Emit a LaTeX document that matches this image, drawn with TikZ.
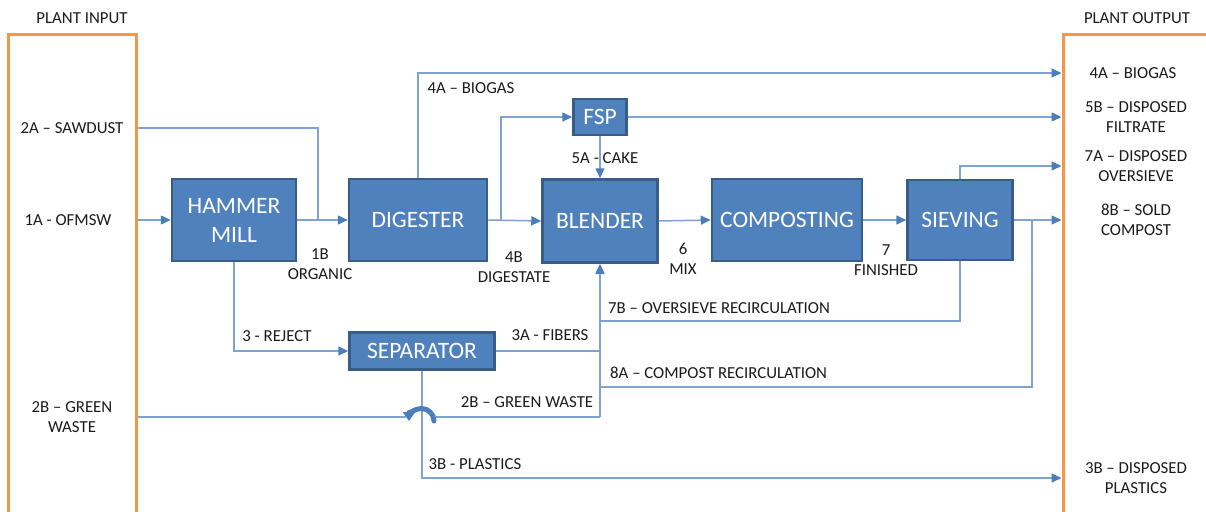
\documentclass[tikz,border=0pt]{standalone}
\usepackage{fontspec}
\setmainfont{Carlito}
\usetikzlibrary{arrows.meta}
\definecolor{boxfill}{HTML}{4F81BD}
\definecolor{boxdraw}{HTML}{385D8A}
\definecolor{linec}{HTML}{7EA3D2}
\definecolor{arrowc}{HTML}{4A7EBB}
\definecolor{orangec}{HTML}{F79646}
\definecolor{textc}{HTML}{1A1A1A}
\begin{document}
\begin{tikzpicture}[x=1pt,y=-1pt,
  proc/.style={draw=boxdraw,fill=boxfill,line width=2.5pt,text=white,font=\fontsize{23.5}{29}\selectfont,align=center,inner sep=0pt},
  io/.style={draw=orangec,line width=3pt,inner sep=0pt},
  lbl/.style={font=\fontsize{16.8}{20}\selectfont,align=center,inner sep=0pt,text=textc},
  flow/.style={draw=linec,line width=1.5pt},
  arr/.style={flow,-{Triangle[length=10pt,width=9pt,color=arrowc]}},
  hop/.style={draw=arrowc,line width=5pt,-{Triangle[length=9pt,width=12pt,color=arrowc]}}
]
\clip (0,0) rectangle (1206,511);
% plant input / output frames
\node[io,minimum width=128pt,minimum height=490pt] (in) at (72,280) {};
\node[io,minimum width=157pt,minimum height=490pt] (out) at (1141.5,280) {};
\node[lbl] (tin) at (82,18) {PLANT INPUT};
\node[lbl] (tout) at (1137,18) {PLANT OUTPUT};
% input labels
\node[lbl] (l2a) at (72,128) {2A – SAWDUST};
\node[lbl] (l1a) at (68,220) {1A - OFMSW};
\node[lbl] (l2b) at (72,417) {2B – GREEN\\WASTE};
% output labels
\node[lbl] (o4a) at (1133,73) {4A – BIOGAS};
\node[lbl] (o5b) at (1136,117) {5B – DISPOSED\\FILTRATE};
\node[lbl] (o7a) at (1136,166) {7A – DISPOSED\\OVERSIEVE};
\node[lbl] (o8b) at (1136,220) {8B – SOLD\\COMPOST};
\node[lbl] (o3b) at (1136,478) {3B – DISPOSED\\PLASTICS};
% process boxes
\node[proc,minimum width=124pt,minimum height=82pt] (hm) at (234,220) {HAMMER\\MILL};
\node[proc,minimum width=138pt,minimum height=82pt] (dig) at (418,220) {DIGESTER};
\node[proc,minimum width=53pt,minimum height=36pt] (fsp) at (600,117) {FSP};
\node[proc,minimum width=115pt,minimum height=83pt] (bl) at (600,221) {BLENDER};
\node[proc,minimum width=150pt,minimum height=82pt] (comp) at (787,220) {COMPOSTING};
\node[proc,minimum width=105pt,minimum height=80pt] (siev) at (960,220) {SIEVING};
\node[proc,minimum width=145pt,minimum height=37pt] (sep) at (422,351) {SEPARATOR};
% junction coordinates
\coordinate (j2a) at (318,220);
\coordinate (j4b) at (501,220);
\coordinate (j8a) at (1032,220);
\coordinate (r7b) at (600,321);
\coordinate (r8a) at (600,387);
\coordinate (jgw) at (600,417);
\coordinate (hopL) at (406,417);
\coordinate (hopR) at (436,417);
% connectors
\draw[arr] (in.east |- l1a) -- (hm.west);
\draw[arr] (hm.east) -- (dig.west);
\draw[flow] (in.east |- l2a) -| (j2a);
\draw[arr] (dig.east) -- (bl.west);
\draw[arr] (j4b) |- (fsp.west);
\draw[arr] (dig.north) |- (out.west |- o4a);
\draw[arr] (fsp.east) -- (fsp.east -| out.west);
\draw[arr] (fsp.south) -- (bl.north);
\draw[arr] (bl.east) -- (comp.west);
\draw[arr] (comp.east) -- (siev.west);
\draw[arr] (siev.north) |- (out.west |- o7a);
\draw[arr] (siev.east) -- (siev.east -| out.west);
\draw[flow] (siev.south) |- (r7b);
\draw[flow] (j8a) |- (r8a);
\draw[arr] (jgw) -- (bl.south);
\draw[flow] (sep.east) -- (sep.east -| bl.south);
\draw[arr] (hm.south) |- (sep.west);
\draw[arr] (sep.south) |- (out.west |- o3b);
\draw[flow] (in.east |- l2b) -- (hopL);
\draw[flow] (hopR) -- (jgw);
\draw[hop,line cap=round] (434,421) arc (0:-180:12.5);
% flow labels
\node[lbl] (t4a) at (471,88) {4A – BIOGAS};
\node[lbl] (t5a) at (605,158) {5A - CAKE};
\node[lbl] (t1b) at (320,264) {1B\\ORGANIC};
\node[lbl] (t4b) at (514,267) {4B\\DIGESTATE};
\node[lbl] (t6) at (683,259) {6\\MIX};
\node[lbl] (t7) at (886,260) {7\\FINISHED};
\node[lbl] (t3) at (277,336) {3 - REJECT};
\node[lbl] (t3a) at (550,335) {3A - FIBERS};
\node[lbl] (t2b) at (527,402) {2B – GREEN WASTE};
\node[lbl] (t3b) at (475,464) {3B - PLASTICS};
\node[lbl,anchor=west] (t7b) at (608,308) {7B – OVERSIEVE RECIRCULATION};
\node[lbl,anchor=west] (t8a) at (610,373) {8A – COMPOST RECIRCULATION};
\end{tikzpicture}
\end{document}
